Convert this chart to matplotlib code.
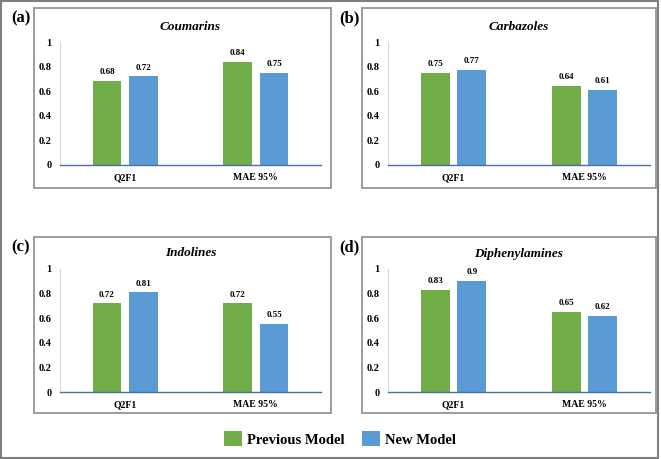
import matplotlib
matplotlib.use("Agg")
import matplotlib.pyplot as plt
from matplotlib.patches import Rectangle

plt.rcParams['font.family'] = ['Liberation Serif', 'DejaVu Serif']
plt.rcParams['font.weight'] = 'bold'

W, H = 661, 459

categories = ['Q2F1', 'MAE 95%']
panel_tags = ['(a)', '(b)', '(c)', '(d)']
panel_titles = ['Coumarins', 'Carbazoles', 'Indolines', 'Diphenylamines']
previous_model = [[0.68, 0.84], [0.75, 0.64], [0.72, 0.72], [0.83, 0.65]]
new_model = [[0.72, 0.75], [0.77, 0.61], [0.81, 0.55], [0.9, 0.62]]
yticks = [0, 0.2, 0.4, 0.6, 0.8, 1.0]
ytick_labels = ['0', '0.2', '0.4', '0.6', '0.8', '1']

GREEN = '#70AD47'
BLUE = '#5B9BD5'

# panel boxes in pixels: left, top, right, bottom
boxes = [(34, 8, 331, 188), (362, 8, 656, 188),
         (34, 237, 331, 413), (362, 237, 656, 413)]
# axes areas in pixels: left, top, right, bottom
axes_px = [(60, 42, 321, 165), (388, 42, 650, 165),
           (60, 269, 321, 392), (388, 269, 650, 392)]


def fx(x):
    return x / W


def fy(y):
    return 1 - y / H


fig = plt.figure(figsize=(W / 100, H / 100), dpi=100)

# outer frame
fig.patches.append(Rectangle((0.002, 0.003), 0.994, 0.994, transform=fig.transFigure,
                             fill=False, edgecolor='#7F7F7F', linewidth=1.5))

for i in range(4):
    l, t, r, b = boxes[i]
    fig.patches.append(Rectangle((fx(l), fy(b)), fx(r) - fx(l), fy(t) - fy(b),
                                 transform=fig.transFigure, fill=False,
                                 edgecolor='#8C8C8C', linewidth=1.2))
    fig.text(fx(l - 13), fy(t + 10), panel_tags[i], fontsize=12, fontweight='bold',
             ha='center', va='center')

    al, at, ar, ab = axes_px[i]
    ax = fig.add_axes([fx(al), fy(ab), fx(ar) - fx(al), fy(at) - fy(ab)])
    xs = range(len(categories))
    b1 = ax.bar([x - 0.14 for x in xs], previous_model[i], width=0.22, color=GREEN,
                label='Previous Model')
    b2 = ax.bar([x + 0.14 for x in xs], new_model[i], width=0.22, color=BLUE,
                label='New Model')
    for bars, vals in ((b1, previous_model[i]), (b2, new_model[i])):
        for rect, v in zip(bars, vals):
            ax.annotate(f'{v:g}', (rect.get_x() + rect.get_width() / 2, v),
                        xytext=(0, 3.5), textcoords='offset points', ha='center',
                        va='bottom', fontsize=6.5, fontweight='bold')
    ax.set_xlim(-0.5, 1.5)
    ax.set_ylim(0, 1)
    ax.set_yticks(yticks)
    ax.set_yticklabels(ytick_labels)
    ax.set_xticks(list(xs))
    ax.set_xticklabels(categories, va='baseline')
    ax.tick_params(axis='y', length=0, labelsize=7.5, pad=6)
    ax.tick_params(axis='x', length=0, labelsize=7, pad=11)
    for s in ('top', 'right'):
        ax.spines[s].set_visible(False)
    ax.spines['left'].set_color('#D9D9D9')
    ax.spines['bottom'].set_color('#4A6FA8')
    ax.spines['bottom'].set_linewidth(1.0)
    ax.set_title(panel_titles[i], fontsize=9.5, fontweight='bold', style='italic', pad=9)

handles, labels = ax.get_legend_handles_labels()
fig.legend(handles, labels, loc='center', bbox_to_anchor=(fx(340), fy(439)), ncol=2,
           frameon=False, prop={'size': 10.5, 'weight': 'bold'},
           handlelength=1.2, handleheight=1.2, columnspacing=1.2, handletextpad=0.35)

fig.savefig('out.png', dpi=100)
